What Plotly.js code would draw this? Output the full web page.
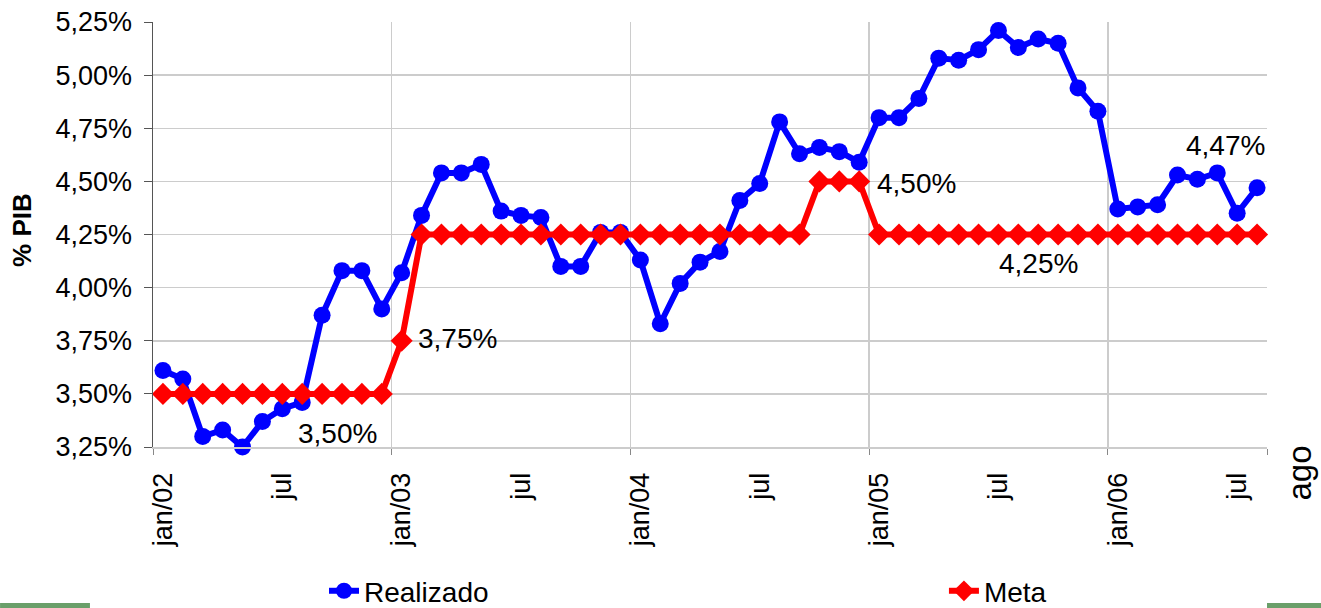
<!DOCTYPE html>
<html>
<head>
<meta charset="utf-8">
<script src="https://cdn.plot.ly/plotly-3.0.1.min.js"></script>
<style>
  html, body { margin: 0; padding: 0; background: #fff; }
  #chart { width: 1321px; height: 608px; }
</style>
</head>
<body>
<div id="chart"></div>
<script>
// months jan/02 .. ago/06 (56 points)
const monthIdx = Array.from({ length: 56 }, (_, i) => i);

const realizado = [
  3.61, 3.57, 3.30, 3.33, 3.25, 3.37, 3.43, 3.46, 3.87, 4.08, 4.08, 3.90,
  4.07, 4.34, 4.54, 4.54, 4.58, 4.36, 4.34, 4.33, 4.10, 4.10, 4.26, 4.26,
  4.13, 3.83, 4.02, 4.12, 4.17, 4.41, 4.49, 4.78, 4.63, 4.66, 4.64, 4.59,
  4.80, 4.80, 4.89, 5.08, 5.07, 5.12, 5.21, 5.13, 5.17, 5.15, 4.94, 4.83,
  4.37, 4.38, 4.39, 4.53, 4.51, 4.54, 4.35, 4.47
];

const meta = [
  3.50, 3.50, 3.50, 3.50, 3.50, 3.50, 3.50, 3.50, 3.50, 3.50, 3.50, 3.50,
  3.75, 4.25, 4.25, 4.25, 4.25, 4.25, 4.25, 4.25, 4.25, 4.25, 4.25, 4.25,
  4.25, 4.25, 4.25, 4.25, 4.25, 4.25, 4.25, 4.25, 4.25, 4.50, 4.50, 4.50,
  4.25, 4.25, 4.25, 4.25, 4.25, 4.25, 4.25, 4.25, 4.25, 4.25, 4.25, 4.25,
  4.25, 4.25, 4.25, 4.25, 4.25, 4.25, 4.25, 4.25
];

const tickPos = [0, 6, 12, 18, 24, 30, 36, 42, 48, 54];
const tickText = ['jan/02', 'jul', 'jan/03', 'jul', 'jan/04', 'jul', 'jan/05', 'jul', 'jan/06', 'jul'];
const yearBreaks = [-0.5, 11.5, 23.5, 35.5, 47.5, 55.5];

const FONT = 'Liberation Sans, Arial, sans-serif';

function fmt(v) {
  return v.toFixed(2).replace('.', ',') + '%';
}

const traces = [{
  type: 'scatter',
  mode: 'lines+markers',
  name: 'Realizado',
  legend: 'legend',
  x: monthIdx,
  y: realizado,
  line: { color: '#0000ff', width: 6 },
  marker: { color: '#0000ff', size: 17, symbol: 'circle' },
  cliponaxis: false
}, {
  type: 'scatter',
  mode: 'lines+markers',
  name: 'Meta',
  legend: 'legend2',
  x: monthIdx,
  y: meta,
  line: { color: '#ff0000', width: 6 },
  marker: { color: '#ff0000', size: 17, symbol: 'diamond' },
  cliponaxis: false
}];

// data labels, anchored on the series points
const labelFont = { family: FONT, size: 28, color: '#000' };
const annotations = [
  { x: 8, y: meta[8], text: fmt(meta[8]), xshift: 15, yshift: -40 },
  { x: 12, y: meta[12], text: fmt(meta[12]), xanchor: 'left', xshift: 14, yshift: 2 },
  { x: 35, y: meta[35], text: fmt(meta[35]), xanchor: 'left', xshift: 16, yshift: -2 },
  { x: 44, y: meta[44], text: fmt(meta[44]), yshift: -29 },
  { x: 55, y: realizado[55], text: fmt(realizado[55]), xanchor: 'right', xshift: 10, yshift: 42 }
].map(a => Object.assign({ xref: 'x', yref: 'y', showarrow: false, font: labelFont }, a));

// y axis title and trailing "ago" label
annotations.push({
  xref: 'paper', yref: 'paper', x: -0.117, y: 0.51,
  text: '<b>% PIB</b>', textangle: -90, showarrow: false,
  xanchor: 'center', yanchor: 'middle',
  font: { family: FONT, size: 26, color: '#000' }
});
annotations.push({
  xref: 'paper', yref: 'paper', x: 1.0296, y: 0.0094,
  text: 'ago', textangle: -90, showarrow: false,
  xanchor: 'center', yanchor: 'top',
  font: { family: FONT, size: 33, color: '#000' }
});

const legendBase = {
  orientation: 'h',
  xanchor: 'left',
  y: -0.339, yanchor: 'middle',
  font: { family: FONT, size: 28, color: '#000' },
  bgcolor: 'rgba(0,0,0,0)'
};

const layout = {
  width: 1321,
  height: 608,
  margin: { l: 153, r: 54, t: 22, b: 161, autoexpand: false },
  paper_bgcolor: '#fff',
  plot_bgcolor: '#fff',
  separators: ',.',
  font: { family: FONT, size: 27, color: '#000' },
  showlegend: true,
  legend: Object.assign({}, legendBase, { x: 0.1535 }),
  legend2: Object.assign({}, legendBase, { x: 0.710 }),
  xaxis: {
    range: [-0.5, 55.5],
    tickmode: 'array',
    tickvals: tickPos,
    ticktext: tickText,
    tickangle: -90,
    ticks: '',
    ticklabelstandoff: 13,
    showgrid: false,
    zeroline: false,
    showline: true,
    linecolor: '#cccccc',
    linewidth: 2,
    tickfont: { family: FONT, size: 27, color: '#000' },
    minor: {
      tickmode: 'array',
      tickvals: yearBreaks,
      ticks: 'outside',
      ticklen: 6,
      tickcolor: '#888',
      showgrid: true,
      gridcolor: '#cccccc',
      gridwidth: 1.5
    }
  },
  yaxis: {
    range: [3.25, 5.25],
    tickmode: 'linear',
    tick0: 3.25,
    dtick: 0.25,
    tickformat: '.2f',
    ticksuffix: '%',
    ticks: 'outside',
    ticklen: 8,
    tickcolor: '#555',
    ticklabelstandoff: 6,
    showline: true,
    linecolor: '#555',
    linewidth: 1.5,
    gridcolor: '#cccccc',
    gridwidth: 1.5,
    zeroline: false,
    tickfont: { family: FONT, size: 27, color: '#000' }
  },
  annotations: annotations,
  shapes: [
    { type: 'rect', xref: 'paper', yref: 'paper', x0: -0.1373, x1: -0.0566, y0: -0.3788, y1: -0.367,
      fillcolor: '#6a9f6a', line: { width: 0 } },
    { type: 'rect', xref: 'paper', yref: 'paper', x0: 1.0, x1: 1.0485, y0: -0.3788, y1: -0.367,
      fillcolor: '#6a9f6a', line: { width: 0 } }
  ]
};

Plotly.newPlot('chart', traces, layout, { displayModeBar: false, staticPlot: true });
</script>
</body>
</html>
